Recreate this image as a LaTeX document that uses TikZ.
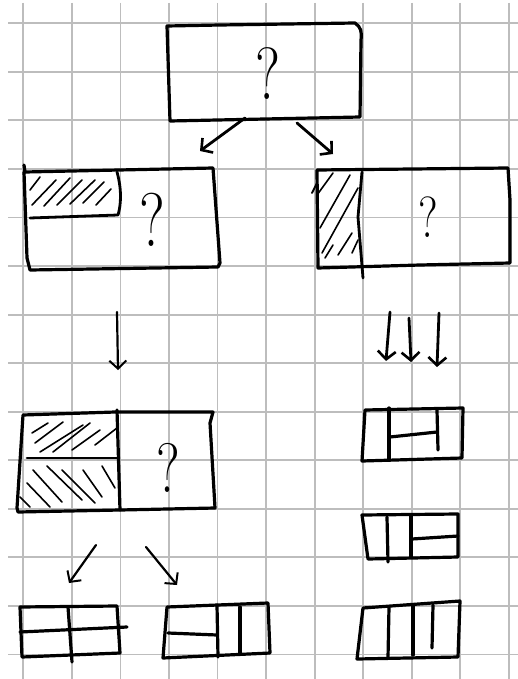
\documentclass[tikz,border=0pt]{standalone}
\usetikzlibrary{arrows.meta}
\begin{document}
\begin{tikzpicture}[x=1pt,y=-1pt,
  ink/.style={line width=3.2pt, line cap=round, line join=round},
  thinink/.style={line width=2.8pt, line cap=round, line join=round},
  hatch/.style={line width=1.6pt, line cap=round},
  arr/.style={line width=2.8pt, line cap=round, line join=round, -{Straight Barb[length=8pt,width=18pt,line width=2.6pt]}},
  thinarr/.style={line width=2.2pt, line cap=round, line join=round, -{Straight Barb[length=8pt,width=17pt,line width=2pt]}},
  gridline/.style={line width=1.8pt, draw=black!26},
  qm/.style={inner sep=0pt, xscale=0.78}]
\useasboundingbox (0,0) rectangle (518,679);
\fill[white] (0,0) rectangle (518,679);
% grid
\foreach \i in {0,...,10} \draw[gridline] ({23.3+48.55*\i},3) -- ({23.3+48.55*\i},679);
\foreach \j in {0,...,13} \draw[gridline] (8,{23.3+48.55*\j}) -- (518,{23.3+48.55*\j});

% ---------- top box
\draw[ink] (167,26) -- (220,25) -- (355,23) .. controls (361,27) and (362,32) .. (361,40) -- (360,117) -- (170,121) -- cycle;
\node[qm, font=\fontsize{74}{74}\selectfont] (q0) at (268,74) {?};

% ---------- left middle box
\draw[ink] (24,165) -- (25,172) -- (213,168) -- (220,263) -- (218,267) -- (30,270) -- (27,258) -- (24,172);
\draw[thinink] (117,172) .. controls (122,190) and (121,205) .. (118,215) -- (30,218);
\foreach \a/\b/\c/\d in {30/190/40/177, 32/205/56/180, 44/206/70/178, 57/205/82/180, 70/204/95/180, 83/203/104/182, 96/205/111/189}
  \draw[hatch] (\a,\b) -- (\c,\d);
\node[qm, font=\fontsize{76}{76}\selectfont] (q1) at (152,220) {?};

% ---------- right middle box
\draw[ink] (317,170) -- (508,168) -- (510,200) -- (510,263) -- (420,265) -- (318,268) -- cycle;
\draw[thinink] (362,172) -- (358,217) -- (363,278);
\draw[line width=2pt, line cap=round] (312,193) -- (317,183);
\foreach \a/\b/\c/\d in {317/195/333/173, 320/228/350/175, 322/253/358/188, 338/255/352/233, 352/253/358/240, 325/258/333/245}
  \draw[hatch] (\a,\b) -- (\c,\d);
\node[qm, font=\fontsize{58}{58}\selectfont] (q2) at (428,217) {?};

% ---------- arrows from top box
\coordinate (t1s) at (245,118); \coordinate (t1e) at (200,151);
\coordinate (t2s) at (297,123); \coordinate (t2e) at (333,154);
\draw[arr] (t1s) -- (t1e);
\draw[arr] (t2s) -- (t2e);

% ---------- down arrow left
\coordinate (d0s) at (117,312); \coordinate (d0e) at (118,370);
\draw[thinarr] (d0s) -- (d0e);

% ---------- triple arrows right
\coordinate (d1s) at (390,312); \coordinate (d1e) at (386,361);
\coordinate (d2s) at (409,318); \coordinate (d2e) at (411,362);
\coordinate (d3s) at (439,313); \coordinate (d3e) at (437,367);
\draw[arr] (d1s) -- (d1e);
\draw[arr] (d2s) -- (d2e);
\draw[arr] (d3s) -- (d3e);

% ---------- lower left box
\draw[ink] (23,415) -- (115,412) -- (213,412) -- (210,423) -- (215,508) -- (120,510) -- (18,512) -- (17,508) -- cycle;
\draw[ink] (117,410) -- (120,510);
\draw[thinink] (27,458) -- (118,458);
\foreach \a/\b/\c/\d in {32/433/48/423, 35/443/63/422, 40/452/83/425, 53/452/90/423, 72/450/100/430, 95/445/117/428}
  \draw[hatch] (\a,\b) -- (\c,\d);
\foreach \a/\b/\c/\d in {33/470/62/502, 47/466/82/500, 62/470/95/503, 83/470/102/497, 102/466/115/488, 27/483/50/507, 20/497/30/507}
  \draw[hatch] (\a,\b) -- (\c,\d);
\node[qm, font=\fontsize{70}{70}\selectfont] (q3) at (168,468) {?};

% ---------- arrows from lower left box
\coordinate (l1s) at (96,545); \coordinate (l1e) at (69,583);
\coordinate (l2s) at (146,547); \coordinate (l2e) at (177,585);
\draw[thinarr] (l1s) -- (l1e);
\draw[thinarr] (l2s) -- (l2e);

% ---------- bottom boxes
\draw[ink] (20,607) -- (117,606) -- (120,653) -- (22,657) -- cycle;
\draw[ink] (68,607) -- (72,662);
\draw[ink] (20,632) -- (127,627);

\draw[ink] (167,607) -- (268,603) -- (270,653) -- (163,658) -- cycle;
\draw[ink] (217,605) -- (218,657);
\draw[ink] (240,607) -- (240,653);
\draw[ink] (168,633) -- (217,635);

% ---------- right column boxes
\draw[ink] (365,410) -- (463,408) -- (462,458) -- (362,461) -- cycle;
\draw[ink] (389,408) -- (389,460);
\draw[ink] (390,437) -- (437,432);
\draw[ink] (437,410) -- (438,450);

\draw[ink] (362,515) -- (458,514) -- (458,557) -- (368,559) -- cycle;
\draw[ink] (387,517) -- (388,562);
\draw[ink] (411,515) -- (411,557);
\draw[ink] (412,539) -- (458,536);

\draw[ink] (363,608) -- (460,601) -- (458,657) -- (357,659) -- cycle;
\draw[ink] (389,607) -- (388,658);
\draw[ink] (413,605) -- (413,655);
\draw[ink] (433,605) -- (432,648);
\end{tikzpicture}
\end{document}
